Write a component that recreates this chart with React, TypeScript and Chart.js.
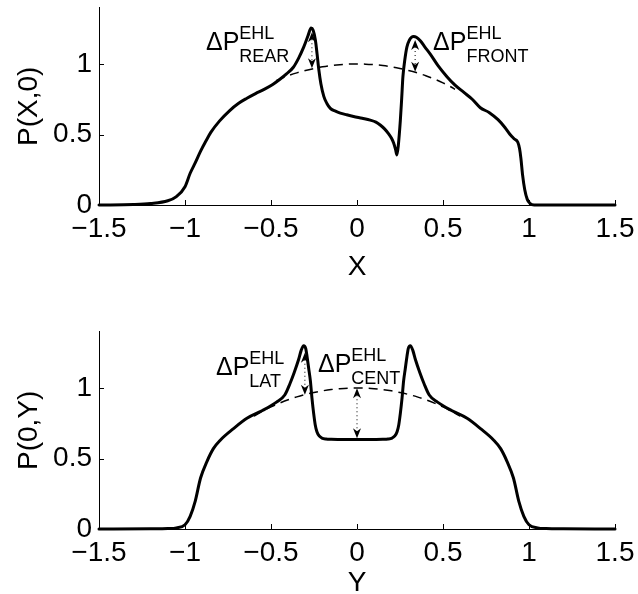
import React, { useEffect, useRef } from "react";
import { Chart, registerables } from "chart.js";

Chart.register(...registerables);

const FONT = "'Liberation Sans', Arial, Helvetica, sans-serif";

// axis ticks
const xTicks = [-1.5, -1, -0.5, 0, 0.5, 1, 1.5];
const yTicks = [0, 0.5, 1];

// top panel: P(X,0)
const topX = [-1.5, -1.3, -1.2, -1.1, -1.05, -1.0, -0.97, -0.94, -0.91, -0.88, -0.85, -0.8, -0.74, -0.69, -0.64, -0.59, -0.54, -0.49, -0.45, -0.41, -0.37, -0.34, -0.31, -0.285, -0.267, -0.255, -0.242, -0.232, -0.222, -0.21, -0.193, -0.175, -0.155, -0.125, -0.097, -0.06, -0.02, 0.03, 0.077, 0.11, 0.135, 0.16, 0.184, 0.2, 0.213, 0.224, 0.232, 0.24, 0.252, 0.26, 0.267, 0.278, 0.29, 0.305, 0.318, 0.329, 0.345, 0.368, 0.395, 0.426, 0.47, 0.523, 0.57, 0.62, 0.67, 0.717, 0.77, 0.82, 0.86, 0.89, 0.913, 0.935, 0.945, 0.953, 0.963, 0.975, 0.99, 1.005, 1.03, 1.2, 1.5];
const topP = [0, 0.003, 0.01, 0.03, 0.06, 0.13, 0.225, 0.3, 0.38, 0.45, 0.515, 0.595, 0.67, 0.72, 0.757, 0.79, 0.82, 0.855, 0.89, 0.93, 0.977, 1.04, 1.12, 1.2, 1.255, 1.24, 1.17, 1.07, 0.96, 0.86, 0.77, 0.72, 0.685, 0.665, 0.652, 0.64, 0.628, 0.615, 0.602, 0.588, 0.567, 0.54, 0.505, 0.475, 0.44, 0.395, 0.355, 0.42, 0.6, 0.76, 0.91, 1.03, 1.12, 1.17, 1.19, 1.195, 1.19, 1.165, 1.12, 1.07, 0.99, 0.91, 0.85, 0.8, 0.75, 0.69, 0.655, 0.605, 0.55, 0.5, 0.47, 0.445, 0.4, 0.33, 0.21, 0.11, 0.04, 0.012, 0, 0, 0];

// bottom panel: P(0,Y)
const botX = [-1.5, -1.2, -1.1, -1.05, -1.0, -0.97, -0.94, -0.91, -0.872, -0.835, -0.795, -0.72, -0.64, -0.55, -0.468, -0.42, -0.39, -0.365, -0.34, -0.325, -0.31, -0.298, -0.29, -0.281, -0.271, -0.262, -0.252, -0.243, -0.233, -0.22, -0.204, -0.18, -0.15, -0.1, 0, 0.1, 0.15, 0.18, 0.204, 0.22, 0.233, 0.243, 0.252, 0.262, 0.271, 0.281, 0.29, 0.298, 0.31, 0.325, 0.34, 0.365, 0.39, 0.42, 0.468, 0.55, 0.64, 0.72, 0.795, 0.835, 0.872, 0.91, 0.94, 0.97, 1.0, 1.05, 1.1, 1.2, 1.5];
const botP = [0, 0.001, 0.003, 0.008, 0.03, 0.09, 0.2, 0.36, 0.48, 0.57, 0.63, 0.71, 0.785, 0.84, 0.9, 0.95, 1.03, 1.11, 1.2, 1.265, 1.3, 1.28, 1.22, 1.14, 1.05, 0.93, 0.82, 0.74, 0.69, 0.66, 0.645, 0.638, 0.636, 0.635, 0.634, 0.635, 0.636, 0.638, 0.645, 0.66, 0.69, 0.74, 0.82, 0.93, 1.05, 1.14, 1.22, 1.28, 1.3, 1.265, 1.2, 1.11, 1.03, 0.95, 0.9, 0.84, 0.785, 0.71, 0.63, 0.57, 0.48, 0.36, 0.2, 0.09, 0.03, 0.008, 0.003, 0.001, 0];

// dashed reference (dry contact) curves
const topDashX = [-0.47, -0.45, -0.4, -0.35, -0.3, -0.25, -0.2, -0.15, -0.1, -0.05, 0, 0.05, 0.1, 0.15, 0.2, 0.25, 0.3, 0.35, 0.4, 0.45, 0.5, 0.55, 0.57];
const topDashP = [0.882, 0.893, 0.917, 0.937, 0.954, 0.968, 0.98, 0.989, 0.995, 0.999, 1.0, 0.999, 0.995, 0.989, 0.98, 0.968, 0.954, 0.937, 0.917, 0.893, 0.866, 0.835, 0.821];
const botDashX = [-0.6, -0.55, -0.5, -0.45, -0.4, -0.35, -0.3, -0.25, -0.2, -0.15, -0.1, -0.05, 0, 0.05, 0.1, 0.15, 0.2, 0.25, 0.3, 0.35, 0.4, 0.45, 0.5, 0.55, 0.6];
const botDashP = [0.8, 0.835, 0.866, 0.893, 0.917, 0.937, 0.954, 0.968, 0.98, 0.989, 0.995, 0.999, 1.0, 0.999, 0.995, 0.989, 0.98, 0.968, 0.954, 0.937, 0.917, 0.893, 0.866, 0.835, 0.8];

// arrows (x, upper end, lower end)
const topArrowX = [-0.262, 0.338];
const topArrowHi = [1.225, 1.17];
const topArrowLo = [0.97, 0.945];
const botArrowX = [-0.303, 0];
const botArrowHi = [1.25, 0.998];
const botArrowLo = [0.952, 0.643];

// annotation labels
const topLabelSub = ["REAR", "FRONT"];
const topLabelX = [-0.878, 0.442];
const topLabelY = [1.099, 1.099];
const botLabelSub = ["LAT", "CENT"];
const botLabelX = [-0.82, -0.227];
const botLabelY = [1.092, 1.113];

function fmt(v: number): string {
  return v < 0 ? "\u2212" + String(Math.abs(v)) : String(v);
}

function arrowHead(ctx: CanvasRenderingContext2D, x: number, y: number, dir: number) {
  ctx.beginPath();
  ctx.moveTo(x, y);
  ctx.lineTo(x - 4, y - dir * 10);
  ctx.lineTo(x, y - dir * 7);
  ctx.lineTo(x + 4, y - dir * 10);
  ctx.closePath();
  ctx.fill();
}

function makeDecor(p: any) {
  return {
    id: "decor",
    afterDraw(chart: any) {
      const ctx: CanvasRenderingContext2D = chart.ctx;
      const xs = chart.scales.x;
      const ys = chart.scales.y;
      const { left, bottom } = chart.chartArea;
      ctx.save();
      ctx.strokeStyle = "#000";
      ctx.fillStyle = "#000";
      ctx.lineWidth = 1;
      ctx.setLineDash([]);
      for (const v of xTicks) {
        const px = Math.round(xs.getPixelForValue(v)) + 0.5;
        ctx.beginPath();
        ctx.moveTo(px, bottom);
        ctx.lineTo(px, bottom - 5);
        ctx.stroke();
      }
      for (const v of yTicks) {
        const py = Math.round(ys.getPixelForValue(v)) + 0.5;
        ctx.beginPath();
        ctx.moveTo(left, py);
        ctx.lineTo(left + 5, py);
        ctx.stroke();
      }
      p.arrowX.forEach((ax: number, i: number) => {
        const px = xs.getPixelForValue(ax);
        const hi = ys.getPixelForValue(p.arrowHi[i]);
        const lo = ys.getPixelForValue(p.arrowLo[i]);
        ctx.setLineDash([1, 3]);
        ctx.lineWidth = 1;
        ctx.beginPath();
        ctx.moveTo(px, hi + 3);
        ctx.lineTo(px, lo - 3);
        ctx.stroke();
        ctx.setLineDash([]);
        arrowHead(ctx, px, lo, 1);
        arrowHead(ctx, px, hi, -1);
      });
      ctx.textBaseline = "alphabetic";
      ctx.textAlign = "left";
      p.labelSub.forEach((sub: string, i: number) => {
        const px = xs.getPixelForValue(p.labelX[i]);
        const py = ys.getPixelForValue(p.labelY[i]);
        ctx.font = `25px ${FONT}`;
        ctx.fillText("\u0394P", px, py);
        const w = ctx.measureText("\u0394P").width;
        ctx.font = `18px ${FONT}`;
        ctx.fillText("EHL", px + w, py - 11);
        ctx.fillText(sub, px + w, py + 12);
      });
      ctx.restore();
    },
  };
}

function makeConfig(p: any): any {
  return {
    type: "line",
    data: {
      datasets: [
        {
          data: p.xs.map((x: number, i: number) => ({ x, y: p.ys[i] })),
          borderColor: "#000",
          borderWidth: 3,
          pointRadius: 0,
          cubicInterpolationMode: "monotone",
          borderJoinStyle: "round",
          borderCapStyle: "round",
          clip: false,
          fill: false,
        },
        {
          data: p.dx.map((x: number, i: number) => ({ x, y: p.dy[i] })),
          borderColor: "#000",
          borderWidth: 1.5,
          borderDash: [9, 6],
          pointRadius: 0,
          cubicInterpolationMode: "monotone",
          clip: false,
          fill: false,
        },
      ],
    },
    options: {
      responsive: false,
      animation: false,
      devicePixelRatio: 1,
      events: [],
      layout: { padding: { left: 0, right: 23, top: p.top, bottom: 0 } },
      plugins: { legend: { display: false }, tooltip: { enabled: false } },
      scales: {
        x: {
          type: "linear",
          min: -1.5,
          max: 1.5,
          afterBuildTicks: (s: any) => {
            s.ticks = xTicks.map((v) => ({ value: v }));
          },
          afterFit: (s: any) => {
            s.height = p.xh;
            s.paddingLeft = 0;
            s.paddingRight = 0;
          },
          grid: { drawOnChartArea: false, drawTicks: false },
          border: { display: true, color: "#000", width: 1 },
          ticks: {
            color: "#000",
            font: { family: FONT, size: 28, lineHeight: 1 },
            padding: 10,
            maxRotation: 0,
            autoSkip: false,
            callback: (v: number) => fmt(v),
          },
          title: {
            display: true,
            text: p.xTitle,
            color: "#000",
            font: { family: FONT, size: 28, lineHeight: 1.2 },
            padding: { top: 0, bottom: p.xTitlePad },
          },
        },
        y: {
          type: "linear",
          min: 0,
          max: 1.4,
          afterBuildTicks: (s: any) => {
            s.ticks = yTicks.map((v) => ({ value: v }));
          },
          afterFit: (s: any) => {
            s.width = 99;
            s.paddingTop = 0;
            s.paddingBottom = 0;
          },
          grid: { drawOnChartArea: false, drawTicks: false },
          border: { display: true, color: "#000", width: 1 },
          ticks: {
            color: "#000",
            font: { family: FONT, size: 28, lineHeight: 1 },
            padding: 7,
            callback: (v: number) => fmt(v),
          },
          title: {
            display: true,
            text: p.yTitle,
            color: "#000",
            font: { family: FONT, size: 28, lineHeight: 1.2 },
            padding: { top: 12, bottom: 0 },
          },
        },
      },
    },
    plugins: [makeDecor(p)],
  };
}

export default function App() {
  const topRef = useRef<HTMLCanvasElement>(null);
  const botRef = useRef<HTMLCanvasElement>(null);

  useEffect(() => {
    const c1 = new Chart(
      topRef.current as HTMLCanvasElement,
      makeConfig({
        xs: topX,
        ys: topP,
        dx: topDashX,
        dy: topDashP,
        top: 7.6,
        xh: 85,
        xTitle: "X",
        yTitle: "P(X,0)",
        xTitlePad: 6,
        arrowX: topArrowX,
        arrowHi: topArrowHi,
        arrowLo: topArrowLo,
        labelSub: topLabelSub,
        labelX: topLabelX,
        labelY: topLabelY,
      })
    );
    const c2 = new Chart(
      botRef.current as HTMLCanvasElement,
      makeConfig({
        xs: botX,
        ys: botP,
        dx: botDashX,
        dy: botDashP,
        top: 41.6,
        xh: 65,
        xTitle: "Y",
        yTitle: "P(0,Y)",
        xTitlePad: -6,
        arrowX: botArrowX,
        arrowHi: botArrowHi,
        arrowLo: botArrowLo,
        labelSub: botLabelSub,
        labelX: botLabelX,
        labelY: botLabelY,
      })
    );
    return () => {
      c1.destroy();
      c2.destroy();
    };
  }, []);

  return (
    <div
      style={{
        position: "fixed",
        left: 0,
        top: 0,
        width: 638,
        height: 594,
        background: "#fff",
        overflow: "hidden",
      }}
    >
      <canvas
        ref={topRef}
        width={638}
        height={290}
        style={{ position: "absolute", left: 0, top: 0, width: 638, height: 290 }}
      />
      <canvas
        ref={botRef}
        width={638}
        height={304}
        style={{ position: "absolute", left: 0, top: 290, width: 638, height: 304 }}
      />
    </div>
  );
}
